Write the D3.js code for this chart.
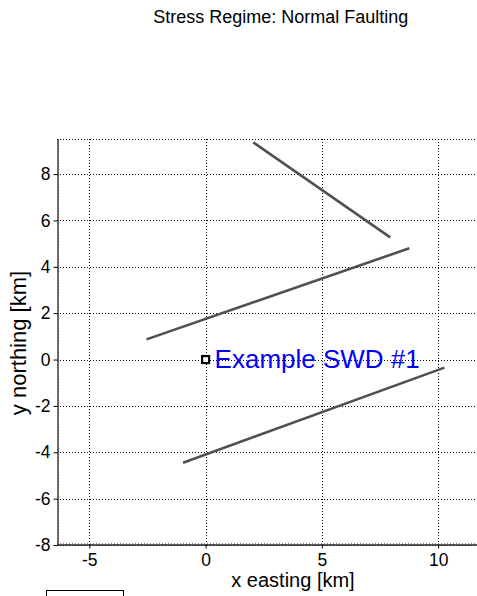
<!DOCTYPE html>
<html>
<head>
<meta charset="utf-8">
<script src="https://cdn.jsdelivr.net/npm/d3@7"></script>
<style>
  html, body { margin: 0; padding: 0; background: #fff; }
  svg { display: block; font-family: Arial, "Liberation Sans", sans-serif; }
</style>
</head>
<body>
<script>
// Fault traces (km), each as [x0, y0, x1, y1]
const faultX0 = [2.05, -2.54, -0.97];
const faultY0 = [9.37, 0.87, -4.45];
const faultX1 = [7.94, 8.76, 10.27];
const faultY1 = [5.27, 4.80, -0.35];

// Injection well
const wellNames = ["Example SWD #1"];
const wellX = [0];
const wellY = [0];

const xTicks = [-5, 0, 5, 10];
const yTicks = [-8, -6, -4, -2, 0, 2, 4, 6, 8];
const titleText = "Stress Regime: Normal Faulting";
const xLabel = "x easting [km]";
const yLabel = "y northing [km]";

const W = 477, H = 596;
const plotLeft = 57, plotTop = 139.3, plotBottom = 545, plotRight = 530;

const x = d3.scaleLinear().domain([-6.39, 13.95]).range([plotLeft, plotRight]);
const y = d3.scaleLinear().domain([-8, 9.5]).range([plotBottom, plotTop]);

// Plain hyphen for negative tick labels
const fmt = d => String(d);

const svg = d3.select("body").append("svg").attr("width", W).attr("height", H);

// Title
svg.append("text").attr("x", 280.7).attr("y", 22.5)
  .attr("text-anchor", "middle").attr("font-size", 18).attr("fill", "#000")
  .text(titleText);

// Dotted grid
const grid = svg.append("g").attr("stroke", "#000").attr("stroke-width", 1)
  .attr("stroke-dasharray", "1,2").attr("shape-rendering", "crispEdges");
grid.selectAll("line.v").data(xTicks).join("line")
  .attr("x1", d => Math.round(x(d)) + 0.5).attr("x2", d => Math.round(x(d)) + 0.5)
  .attr("y1", plotTop).attr("y2", plotBottom);
grid.selectAll("line.h").data(yTicks).join("line")
  .attr("y1", d => Math.round(y(d)) + 0.5).attr("y2", d => Math.round(y(d)) + 0.5)
  .attr("x1", plotLeft).attr("x2", plotRight);
// Dotted top edge of the axes box
grid.append("line").attr("x1", plotLeft).attr("x2", plotRight)
  .attr("y1", Math.round(plotTop) + 0.5).attr("y2", Math.round(plotTop) + 0.5);

// Minor tick texture just inside the left and bottom axis lines
const minor = svg.append("g").attr("stroke", "#888").attr("stroke-width", 1)
  .attr("stroke-dasharray", "1,2").attr("shape-rendering", "crispEdges");
minor.append("line").attr("x1", plotLeft + 1.5).attr("x2", plotLeft + 1.5)
  .attr("y1", plotTop).attr("y2", plotBottom);
minor.append("line").attr("y1", plotBottom - 1.5).attr("y2", plotBottom - 1.5)
  .attr("x1", plotLeft).attr("x2", plotRight);

// Axes
const xAxis = d3.axisBottom(x).tickValues(xTicks).tickSize(4).tickSizeOuter(0)
  .tickPadding(5).tickFormat(fmt);
const yAxis = d3.axisLeft(y).tickValues(yTicks).tickSize(4).tickSizeOuter(0)
  .tickPadding(3).tickFormat(fmt);

const gx = svg.append("g").attr("transform", `translate(0,${Math.round(plotBottom) - 0.5})`).call(xAxis);
const gy = svg.append("g").attr("transform", `translate(${plotLeft + 0.5},0)`).call(yAxis);
[gx, gy].forEach(g => {
  g.select(".domain").attr("stroke", "#222").attr("stroke-width", 1.3);
  g.selectAll(".tick line").attr("stroke", "#000");
  g.selectAll(".tick text").attr("font-size", 17.5).attr("fill", "#000")
    .attr("font-family", "Arial, 'Liberation Sans', sans-serif");
});
gx.selectAll(".tick text").attr("dy", "0.71em");

// Axis labels
svg.append("text").attr("x", 293).attr("y", 587)
  .attr("text-anchor", "middle").attr("font-size", 20).attr("fill", "#000")
  .text(xLabel);
svg.append("text").attr("transform", `translate(26,343) rotate(-90)`)
  .attr("text-anchor", "middle").attr("font-size", 22).attr("fill", "#000")
  .text(yLabel);

// Fault traces
const faults = faultX0.map((d, i) => ({ x0: d, y0: faultY0[i], x1: faultX1[i], y1: faultY1[i] }));
svg.append("g").selectAll("line").data(faults).join("line")
  .attr("x1", d => x(d.x0)).attr("y1", d => y(d.y0))
  .attr("x2", d => x(d.x1)).attr("y2", d => y(d.y1))
  .attr("stroke", "#505050").attr("stroke-width", 2.6);

// Well marker and name
const wells = wellNames.map((n, i) => ({ name: n, x: wellX[i], y: wellY[i] }));
const gw = svg.append("g");
gw.selectAll("rect").data(wells).join("rect")
  .attr("x", d => x(d.x) - 3.5).attr("y", d => y(d.y) - 3.5)
  .attr("width", 7).attr("height", 7)
  .attr("fill", "#fff").attr("stroke", "#000").attr("stroke-width", 2.2);
gw.selectAll("text").data(wells).join("text")
  .attr("x", d => x(d.x) + 9).attr("y", d => y(d.y) + 8)
  .attr("font-size", 26).attr("fill", "#0000ff")
  .text(d => d.name);

// Legend box (lower left)
svg.append("rect").attr("x", 46.5).attr("y", 590.5).attr("width", 77).attr("height", 20)
  .attr("fill", "#fff").attr("stroke", "#000").attr("stroke-width", 1);
</script>
</body>
</html>
